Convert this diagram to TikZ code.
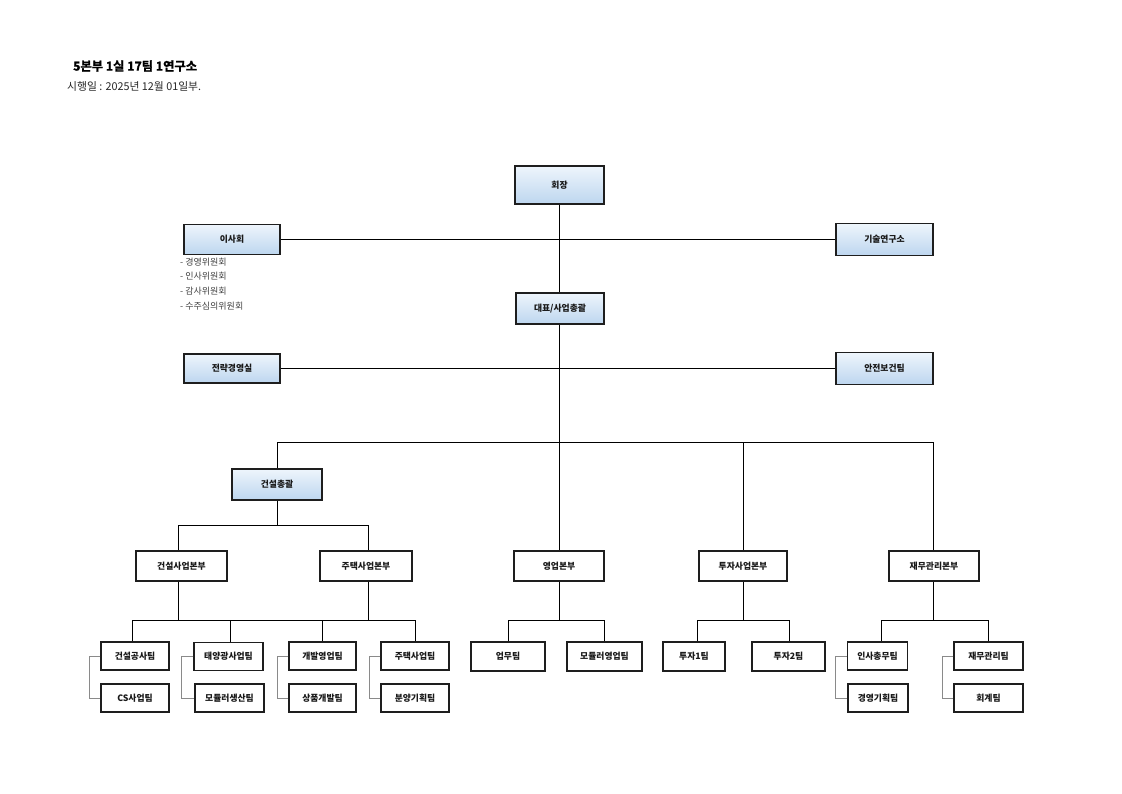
\documentclass[tikz,border=0pt]{standalone}
\usepackage{fontspec}
\setmainfont{Noto Sans CJK KR}
\newfontfamily\heavyfont[FakeBold=1.6]{Noto Sans CJK KR Bold}
\definecolor{bxtop}{HTML}{EEF5FC}
\definecolor{bxbot}{HTML}{BDD6EF}
\definecolor{bxline}{HTML}{1E1E1E}
\definecolor{brkgray}{HTML}{8A8A8A}
\begin{document}
\begin{tikzpicture}[x=1pt,y=-1pt,
  box/.style={draw=bxline, line width=1.3pt, fill=white, inner sep=0pt,
    font=\bfseries\fontsize{8.8}{10}\selectfont, text=black!90},
  bluebox/.style={box, top color=bxtop, bottom color=bxbot},
  sz/.style 2 args={minimum width=#1pt, minimum height=#2pt},
  conn/.style={line width=1pt, black},
  brk/.style={line width=1pt, brkgray},
  note/.style={anchor=west, inner sep=0pt, font=\fontsize{9}{10}\selectfont, text=black!75}]
\useasboundingbox (0,0) rectangle (1122,793);

% titles
\node[anchor=west, inner sep=0pt, font=\heavyfont\fontsize{12.3}{14}\selectfont] (title) at (73,66) {5본부 1실 17팀 1연구소};
\node[anchor=west, inner sep=0pt, font=\fontsize{10.8}{12}\selectfont, text=black!85] (date) at (67,86) {시행일 : 2025년 12월 01일부.};

% top level
\node[bluebox, sz={89}{38}] (ceo) at (559.5,185) {회장};
\node[bluebox, sz={96}{30}] (board) at (232,239.5) {이사회};
\node[bluebox, sz={97}{32}] (lab) at (884.5,239.5) {기술연구소};
\node[bluebox, sz={88}{31}] (rep) at (560,308.5) {대표/사업총괄};
\node[bluebox, sz={96}{29}] (strat) at (232,368.5) {전략경영실};
\node[bluebox, sz={97}{32}] (safety) at (884.5,368.5) {안전보건팀};
\node[bluebox, sz={90}{31}] (constr) at (277,484.5) {건설총괄};

\node[note] (n1) at (180,262) {- 경영위원회};
\node[note] (n2) at (180,276) {- 인사위원회};
\node[note] (n3) at (180,291) {- 감사위원회};
\node[note] (n4) at (180,306) {- 수주심의위원회};

% divisions
\node[box, sz={91}{30}] (div1) at (181.5,566) {건설사업본부};
\node[box, sz={92}{30}] (div2) at (366,566) {주택사업본부};
\node[box, sz={90}{30}] (sales) at (559,566) {영업본부};
\node[box, sz={88}{30}] (inv) at (743,566) {투자사업본부};
\node[box, sz={90}{30}] (fin) at (934,566) {재무관리본부};

% teams
\node[box, sz={68}{28}] (t1) at (135,656) {건설공사팀};
\node[box, sz={68}{28}] (t2) at (135,698) {CS사업팀};
\node[box, sz={69}{28}] (t3) at (228.5,656.5) {태양광사업팀};
\node[box, sz={69}{28}] (t4) at (229.5,698) {모듈러생산팀};
\node[box, sz={67}{28}] (t5) at (322.5,656) {개발영업팀};
\node[box, sz={67}{28}] (t6) at (322.5,698) {상품개발팀};
\node[box, sz={68}{28}] (t7) at (415,656) {주택사업팀};
\node[box, sz={68}{28}] (t8) at (415,698) {분양기획팀};
\node[box, sz={74}{29}] (t9) at (508,656.5) {업무팀};
\node[box, sz={75}{29}] (t10) at (604.5,656.5) {모듈러영업팀};
\node[box, sz={62}{29}] (t11) at (694,656.5) {투자1팀};
\node[box, sz={73}{29}] (t12) at (788.5,656.5) {투자2팀};
\node[box, sz={60}{28}] (t13) at (877.5,656) {인사총무팀};
\node[box, sz={60}{28}] (t14) at (878,698) {경영기획팀};
\node[box, sz={69}{28}] (t15) at (988.5,656) {재무관리팀};
\node[box, sz={69}{28}] (t16) at (988.5,698) {회계팀};

% bus coordinates
\coordinate (bL) at (277,442);
\coordinate (bM) at (559,442);
\coordinate (bI) at (743,442);
\coordinate (bR) at (933,442);
\coordinate (cL) at (178,525);
\coordinate (cR) at (368,525);
\coordinate (dA) at (132,620);
\coordinate (dB) at (230,620);
\coordinate (dC) at (322,620);
\coordinate (dD) at (415,620);
\coordinate (sA) at (508,620);
\coordinate (sB) at (604.5,620);
\coordinate (iA) at (697,620);
\coordinate (iB) at (789,620);
\coordinate (fA) at (881,620);
\coordinate (fB) at (988,620);

\begin{scope}[conn]
\draw (board.east) -- (lab.west);
\draw (strat.east) -- (safety.west);
\draw (bM |- ceo.south) -- (bM |- rep.north);
\draw (bM |- rep.south) -- (bM);
\draw (bL) -- (bR);
\draw (bL) -- (bL |- constr.north);
\draw (bM) -- (bM |- sales.north);
\draw (bI) -- (bI |- inv.north);
\draw (bR) -- (bR |- fin.north);
% construction
\draw (constr.south) -- (constr.south |- cL);
\draw (cL) -- (cR);
\draw (cL) -- (cL |- div1.north);
\draw (cR) -- (cR |- div2.north);
\draw (cL |- div1.south) -- (cL |- dA);
\draw (cR |- div2.south) -- (cR |- dA);
\draw (dA) -- (dD);
\draw (dA) -- (dA |- t1.north);
\draw (dB) -- (dB |- t3.north);
\draw (dC) -- (dC |- t5.north);
\draw (dD) -- (dD |- t7.north);
% sales
\draw (sales.south) -- (sales.south |- sA);
\draw (sA) -- (sB);
\draw (sA) -- (sA |- t9.north);
\draw (sB) -- (sB |- t10.north);
% investment
\draw (inv.south) -- (inv.south |- iA);
\draw (iA) -- (iB);
\draw (iA) -- (iA |- t11.north);
\draw (iB) -- (iB |- t12.north);
% finance
\draw (bR |- fin.south) -- (bR |- fA);
\draw (fA) -- (fB);
\draw (fA) -- (fA |- t13.north);
\draw (fB) -- (fB |- t15.north);
\end{scope}

% gray brackets
\draw[brk] (t1.west) -- ++(-11,0) |- (t2.west);
\draw[brk] (t3.west) -- ++(-12,0) |- (t4.west);
\draw[brk] (t5.west) -- ++(-11,0) |- (t6.west);
\draw[brk] (t7.west) -- ++(-11,0) |- (t8.west);
\draw[brk] (t13.west) -- ++(-11,0) |- (t14.west);
\draw[brk] (t15.west) -- ++(-11,0) |- (t16.west);
\end{tikzpicture}
\end{document}
